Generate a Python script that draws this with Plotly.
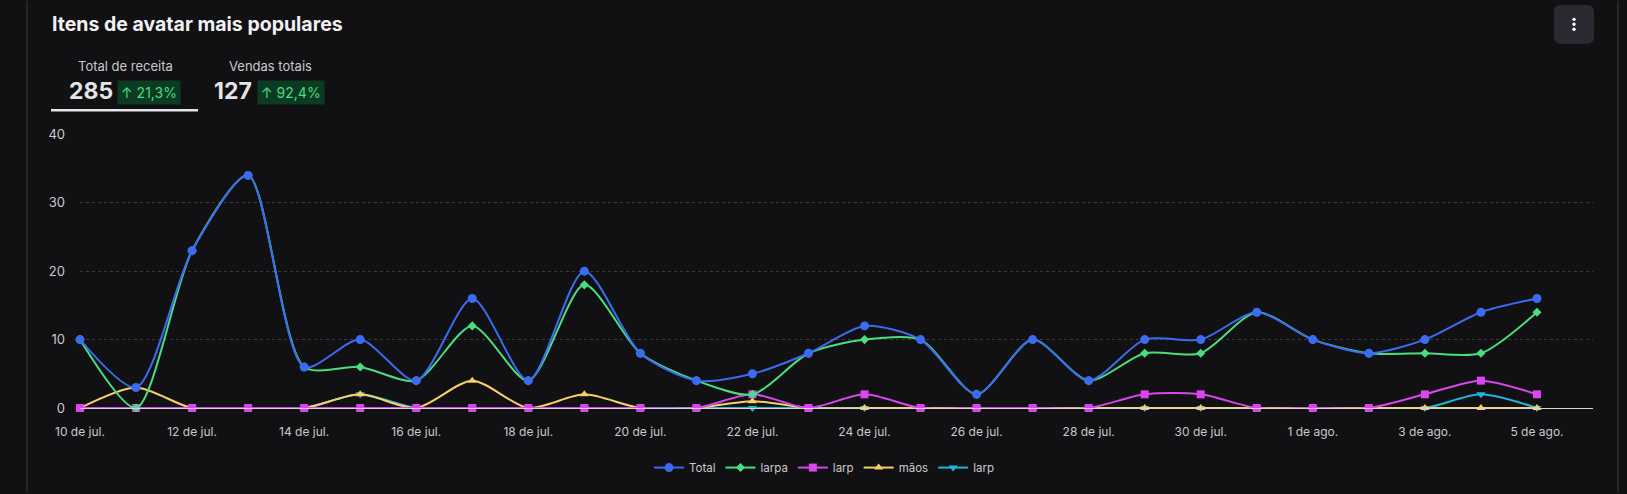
import plotly.graph_objects as go

# ---- data ----
days = ["10 de jul.", "11 de jul.", "12 de jul.", "13 de jul.", "14 de jul.", "15 de jul.",
        "16 de jul.", "17 de jul.", "18 de jul.", "19 de jul.", "20 de jul.", "21 de jul.",
        "22 de jul.", "23 de jul.", "24 de jul.", "25 de jul.", "26 de jul.", "27 de jul.",
        "28 de jul.", "29 de jul.", "30 de jul.", "31 de jul.", "1 de ago.", "2 de ago.",
        "3 de ago.", "4 de ago.", "5 de ago."]
total = [10, 3, 23, 34, 6, 10, 4, 16, 4, 20, 8, 4, 5, 8, 12, 10, 2, 10, 4, 10, 10, 14, 10, 8, 10, 14, 16]
larpa = [10, 0, 23, 34, 6, 6, 4, 12, 4, 18, 8, 4, 2, 8, 10, 10, 2, 10, 4, 8, 8, 14, 10, 8, 8, 8, 14]
larp = [0, 0, 0, 0, 0, 0, 0, 0, 0, 0, 0, 0, 2, 0, 2, 0, 0, 0, 0, 2, 2, 0, 0, 0, 2, 4, 2]
maos = [0, 3, 0, 0, 0, 2, 0, 4, 0, 2, 0, 0, 1, 0, 0, 0, 0, 0, 0, 0, 0, 0, 0, 0, 0, 0, 0]
larp2 = [0, 0, 0, 0, 0, 2, 0, 0, 0, 0, 0, 0, 0, 0, 0, 0, 0, 0, 0, 0, 0, 0, 0, 0, 0, 2, 0]
tick_labels = days[::2]
y_ticks = [0, 10, 20, 30, 40]

title = "Itens de avatar mais populares"
kpi_labels = ["Total de receita", "Vendas totais"]
kpi_values = ["285", "127"]
kpi_changes = ["↑ 21,3%", "↑ 92,4%"]

# ---- layout geometry (pixels) ----
WIDTH, HEIGHT = 1627, 494
L, R, T, B = 80, 1593, 134, 410
PW, PH = R - L, B - T
BG = "#111113"
FONT = "Inter, Noto Sans, sans-serif"


def px(x):
    return (x - L) / PW


def py(y):
    return (B - y) / PH


series = [
    # drawn bottom -> top
    dict(name="larp", y=larp2, color="#22b5d8", symbol="triangle-down", size=8, rank=5),
    dict(name="mãos", y=maos, color="#f6cf6a", symbol="triangle-up", size=8, rank=4),
    dict(name="larp", y=larp, color="#d946ef", symbol="square", size=8, rank=3),
    dict(name="larpa", y=larpa, color="#4ade80", symbol="diamond", size=7, rank=2),
    dict(name="Total", y=total, color="#3b6cf0", symbol="circle", size=9, rank=1),
]

fig = go.Figure()
for s in series:
    fig.add_trace(go.Scatter(
        x=days, y=s["y"], name=s["name"], mode="lines+markers",
        line=dict(color=s["color"], width=2, shape="spline", smoothing=0.75),
        marker=dict(color=s["color"], symbol=s["symbol"], size=s["size"]),
        legendrank=s["rank"], cliponaxis=False,
    ))

fig.update_layout(
    width=WIDTH, height=HEIGHT,
    paper_bgcolor=BG, plot_bgcolor=BG,
    margin=dict(l=L, r=WIDTH - R, t=T, b=HEIGHT - B),
    font=dict(family=FONT, color="#c9c9cc", size=12),
    showlegend=True,
    legend=dict(orientation="h", x=px(824), xanchor="center", y=py(470), yanchor="middle",
                font=dict(size=11.5, color="#c9c9cc"), bgcolor="rgba(0,0,0,0)",
                itemwidth=30, traceorder="normal"),
    hovermode="x unified",
)
fig.update_xaxes(
    type="category", range=[0, len(days)], tickvals=tick_labels, ticktext=tick_labels,
    showgrid=False, zeroline=False, showline=True, linecolor="#d6d6d6", linewidth=1,
    ticks="", ticklabelstandoff=13, tickfont=dict(size=12, color="#c9c9cc"),
)
fig.update_yaxes(
    range=[0, 40.05], tickvals=y_ticks, showgrid=True, gridcolor="#3a3a3f", griddash="3px,3px",
    gridwidth=1, zeroline=False, showline=False, ticks="", ticklabelstandoff=14,
    tickfont=dict(size=13, color="#c9c9cc"),
)

ann = []
ann.append(dict(text="<b>" + title + "</b>", x=px(50), y=py(23), xanchor="left", yanchor="middle",
                font=dict(size=19.5, color="#f2f2f4", family=FONT)))
label_cx = [125, 270]
val_x = [67, 212]
badge_x = [117, 257]
for i in range(2):
    ann.append(dict(text=kpi_labels[i], x=px(label_cx[i]), y=py(65), xanchor="center", yanchor="middle",
                    font=dict(size=13, color="#c9c9cc", family=FONT)))
    ann.append(dict(text="<b>" + kpi_values[i] + "</b>", x=px(val_x[i]), y=py(91), xanchor="left",
                    yanchor="middle", font=dict(size=23, color="#e4e4e7", family=FONT)))
    ann.append(dict(text=kpi_changes[i], x=px(badge_x[i]), y=py(92), xanchor="left", yanchor="middle",
                    font=dict(size=14, color="#4ade80", family=FONT), bgcolor="#0b3b22",
                    borderpad=3))
fig.update_layout(annotations=[dict(a, xref="paper", yref="paper", showarrow=False) for a in ann])

shapes = []
# card borders
for xb in (27, 1618):
    shapes.append(dict(type="line", xref="paper", yref="paper", x0=px(xb), x1=px(xb),
                       y0=py(0), y1=py(HEIGHT), line=dict(color="#2c2c31", width=1.5)))
# active tab underline
shapes.append(dict(type="line", xref="paper", yref="paper", x0=px(51), x1=px(198),
                   y0=py(110), y1=py(110), line=dict(color="#e6e6e9", width=2.5)))
# menu button (rounded rect)
x0, x1, y0, y1, r = 1554, 1594, 4, 43, 7
pts = [
    f"M {px(x0 + r)},{py(y0)}", f"L {px(x1 - r)},{py(y0)}", f"Q {px(x1)},{py(y0)} {px(x1)},{py(y0 + r)}",
    f"L {px(x1)},{py(y1 - r)}", f"Q {px(x1)},{py(y1)} {px(x1 - r)},{py(y1)}",
    f"L {px(x0 + r)},{py(y1)}", f"Q {px(x0)},{py(y1)} {px(x0)},{py(y1 - r)}",
    f"L {px(x0)},{py(y0 + r)}", f"Q {px(x0)},{py(y0)} {px(x0 + r)},{py(y0)}", "Z",
]
shapes.append(dict(type="path", xref="paper", yref="paper", path=" ".join(pts),
                   fillcolor="#2a2a32", line=dict(width=0)))
for dy in (18.5, 23.5, 28.5):
    shapes.append(dict(type="circle", xref="paper", yref="paper",
                       x0=px(1572.3), x1=px(1575.7), y0=py(dy - 1.7), y1=py(dy + 1.7),
                       fillcolor="#ffffff", line=dict(width=0)))
fig.update_layout(shapes=shapes)

fig.write_html(
    "out.html",
    config={"displayModeBar": False},
    post_script="document.body.style.margin='0';document.body.style.background='#111113';",
)
